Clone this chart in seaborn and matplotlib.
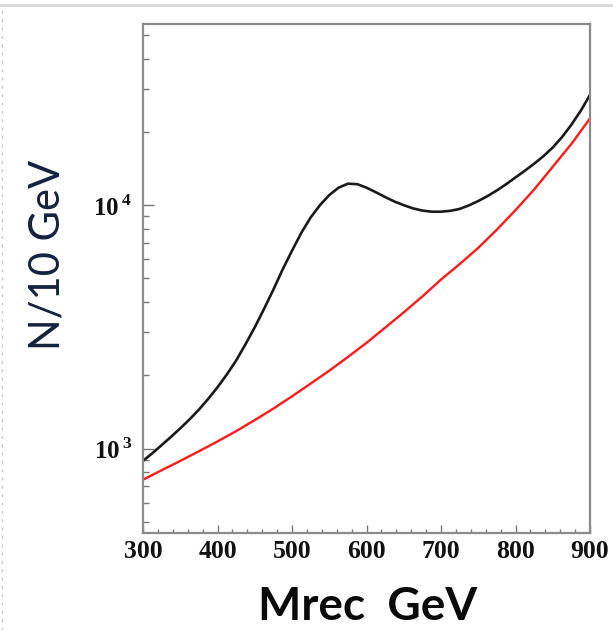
import numpy as np
import pandas as pd
import seaborn as sns
import matplotlib.pyplot as plt
from matplotlib.lines import Line2D
from matplotlib.ticker import FixedLocator, LogLocator, MultipleLocator, NullFormatter

# values (GeV, events per 10 GeV)
mrec_total = [300, 312.5, 325, 337.5, 350, 362.5, 375, 387.5, 400, 412.5, 425, 437.5,
              450, 462.5, 475, 487.5, 500, 512.5, 525, 537.5, 550, 562.5, 575, 587.5,
              600, 612.5, 625, 637.5, 650, 662.5, 675, 687.5, 700, 712.5, 725, 737.5,
              750, 762.5, 775, 787.5, 800, 812.5, 825, 837.5, 850, 862.5, 875, 887.5, 900]
total = [890, 957, 1033, 1117, 1211, 1318, 1445, 1600, 1786, 2015, 2300, 2680,
         3150, 3750, 4500, 5450, 6500, 7700, 8900, 10000, 11000, 11800, 12250, 12200,
         11800, 11300, 10800, 10350, 10000, 9700, 9500, 9400, 9400, 9480, 9650, 9980,
         10400, 10900, 11500, 12200, 13000, 13850, 14800, 15900, 17250, 19050, 21400, 24400, 28400]
mrec_bkg = [300, 325, 350, 375, 400, 425, 450, 475, 500, 525, 550, 575, 600,
            625, 650, 675, 700, 725, 750, 775, 800, 825, 850, 875, 900]
background = [745, 815, 890, 975, 1070, 1180, 1310, 1460, 1640, 1850, 2090, 2380, 2720,
              3140, 3630, 4220, 4950, 5730, 6680, 7940, 9550, 11600, 14400, 17850, 22750]
ytick_vals = [1e3, 1e4]
ytick_text = [r"$\mathbf{10}^{\,\mathbf{3}}$", r"$\mathbf{10}^{\,\mathbf{4}}$"]

df_tot = pd.DataFrame({"mrec": mrec_total, "n": total})
df_bkg = pd.DataFrame({"mrec": mrec_bkg, "n": background})

sns.set_style("white")
plt.rcParams["mathtext.fontset"] = "custom"
plt.rcParams["mathtext.rm"] = "Liberation Serif"
plt.rcParams["mathtext.bf"] = "Liberation Serif:bold"

fig = plt.figure(figsize=(6.13, 6.30), dpi=100)
ax = fig.add_axes([0.2333, 0.154, 0.7292, 0.8079])

sns.lineplot(data=df_bkg, x="mrec", y="n", color="#ff1a1a", linewidth=1.7, ax=ax)
sns.lineplot(data=df_tot, x="mrec", y="n", color="#1a1a1a", linewidth=1.9, ax=ax)

ax.set_yscale("log")
ax.set_xlim(300, 900)
ax.set_ylim(450, 55500)

for s in ax.spines.values():
    s.set_color("#8a8a8a")
    s.set_linewidth(1.6)

ax.xaxis.set_major_locator(MultipleLocator(100))
ax.xaxis.set_minor_locator(MultipleLocator(20))
ax.yaxis.set_major_locator(FixedLocator(ytick_vals))
ax.yaxis.set_minor_locator(LogLocator(base=10, subs=np.arange(2, 10)))
ax.yaxis.set_minor_formatter(NullFormatter())
ax.set_yticklabels(ytick_text)

ax.tick_params(axis="both", which="both", direction="in", color="#777777",
               top=False, right=False, left=True, bottom=True)
ax.tick_params(axis="x", which="major", length=6, width=1, pad=5)
ax.tick_params(axis="x", which="minor", length=3, width=1)
ax.tick_params(axis="y", which="major", length=8, width=1, pad=8, labelsize=18,
               labelcolor="#111111")
ax.tick_params(axis="y", which="minor", length=4, width=1)
for lab in ax.get_xticklabels():
    lab.set_fontfamily("Liberation Serif")
    lab.set_fontweight("bold")
    lab.set_fontsize(18.5)
    lab.set_color("#111111")

ax.set_xlabel("")
ax.set_ylabel("")
fig.text(0.600, 0.037, "Mrec  GeV", ha="center", va="center", fontsize=33,
         fontweight="bold", family="Lato", color="#0a0a0a")
fig.text(0.078, 0.595, "N/10 GeV", ha="center", va="center", rotation=90,
         fontsize=30, family="Lato", color="#15223d")

# screenshot border remnants
fig.add_artist(Line2D([0, 1], [0.992, 0.992], transform=fig.transFigure,
                      color="#d8d8d8", linewidth=2))
fig.add_artist(Line2D([0.004, 0.004], [0, 0.99], transform=fig.transFigure,
                      color="#c8c8c8", linewidth=1, linestyle=(0, (2, 4))))

fig.savefig("out.png", dpi=100)
